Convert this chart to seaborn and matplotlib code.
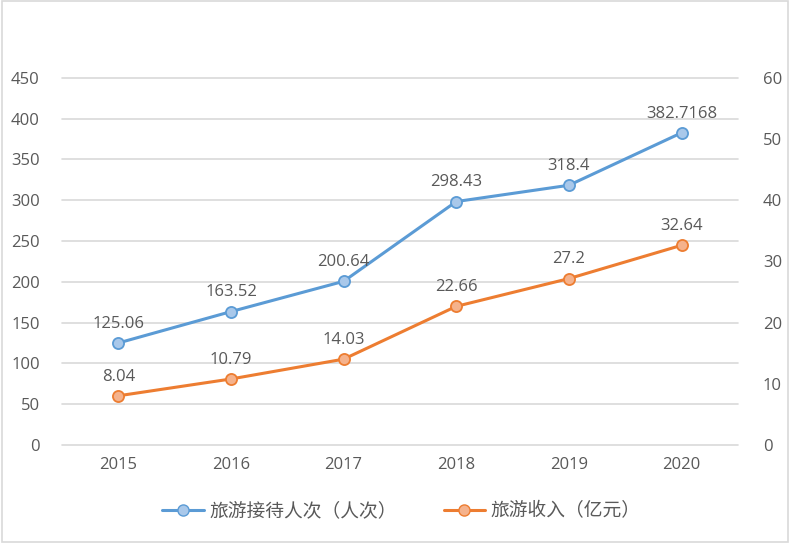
import matplotlib
matplotlib.use("Agg")
import matplotlib.pyplot as plt
import seaborn as sns
import pandas as pd
from matplotlib.lines import Line2D

years = ["2015", "2016", "2017", "2018", "2019", "2020"]
visitors = [125.06, 163.52, 200.64, 298.43, 318.4, 382.7168]
visitor_labels = ["125.06", "163.52", "200.64", "298.43", "318.4", "382.7168"]
income = [8.04, 10.79, 14.03, 22.66, 27.2, 32.64]
income_labels = ["8.04", "10.79", "14.03", "22.66", "27.2", "32.64"]
name_visitors = "旅游接待人次（人次）"
name_income = "旅游收入（亿元）"
left_ticks = [0, 50, 100, 150, 200, 250, 300, 350, 400, 450]
right_ticks = [0, 10, 20, 30, 40, 50, 60]

sns.set_theme(style="white")
plt.rcParams["font.family"] = ["Open Sans", "Noto Sans CJK SC", "DejaVu Sans"]

blue, blue_fill = "#5B9BD5", "#A9C8EA"
orange, orange_fill = "#ED7D31", "#F5B28C"
gray_txt = "#595959"
fs = 12

df1 = pd.DataFrame({"year": years, "v": visitors})
df2 = pd.DataFrame({"year": years, "v": income})

fig = plt.figure(figsize=(7.9, 5.43), dpi=100)
ax = fig.add_axes([0.0785, 0.1805, 0.8555, 0.676])
ax2 = ax.twinx()

for y in left_ticks:
    ax.axhline(y, color="#D9D9D9", lw=1.2, zorder=0, clip_on=False)

sns.lineplot(data=df1, x="year", y="v", ax=ax, color=blue, lw=2.2,
             marker="o", markersize=8, markerfacecolor=blue_fill,
             markeredgecolor=blue, markeredgewidth=1.3, sort=False, zorder=3)
sns.lineplot(data=df2, x="year", y="v", ax=ax2, color=orange, lw=2.2,
             marker="o", markersize=8, markerfacecolor=orange_fill,
             markeredgecolor=orange, markeredgewidth=1.3, sort=False, zorder=3)

ax.set_xlim(-0.5, 5.5)
ax.set_ylim(0, 450)
ax2.set_ylim(0, 60)
ax.set_yticks(left_ticks)
ax2.set_yticks(right_ticks)
ax.set_xlabel("")
ax.set_ylabel("")
ax2.set_ylabel("")

for a in (ax, ax2):
    for s in a.spines.values():
        s.set_visible(False)
    a.tick_params(axis="both", length=0, labelsize=fs, labelcolor=gray_txt)
ax.tick_params(axis="y", pad=16)
ax2.tick_params(axis="y", pad=18)
ax.tick_params(axis="x", pad=9)
ax2.grid(False)

for i, (v, t) in enumerate(zip(visitors, visitor_labels)):
    ax.annotate(t, (i, v), xytext=(0, 8), textcoords="offset points",
                ha="center", va="bottom", fontsize=fs, color=gray_txt)
for i, (v, t) in enumerate(zip(income, income_labels)):
    ax2.annotate(t, (i, v), xytext=(0, 8), textcoords="offset points",
                 ha="center", va="bottom", fontsize=fs, color=gray_txt)

handles = [
    Line2D([], [], color=blue, lw=2.2, marker="o", markersize=8,
           markerfacecolor=blue_fill, markeredgecolor=blue),
    Line2D([], [], color=orange, lw=2.2, marker="o", markersize=8,
           markerfacecolor=orange_fill, markeredgecolor=orange),
]
fig.legend(handles, [name_visitors, name_income], loc="center",
           bbox_to_anchor=(0.508, 0.058), ncol=2, frameon=False,
           fontsize=13.5, labelcolor=gray_txt, handlelength=2.2,
           columnspacing=2.5, handletextpad=0.3)
if ax.get_legend():
    ax.get_legend().remove()
if ax2.get_legend():
    ax2.get_legend().remove()

fig.patches.append(plt.Rectangle((0.002, 0.002), 0.996, 0.996, transform=fig.transFigure,
                                 fill=False, edgecolor="#D9D9D9", lw=1.2))
fig.savefig("out.png", dpi=100)
